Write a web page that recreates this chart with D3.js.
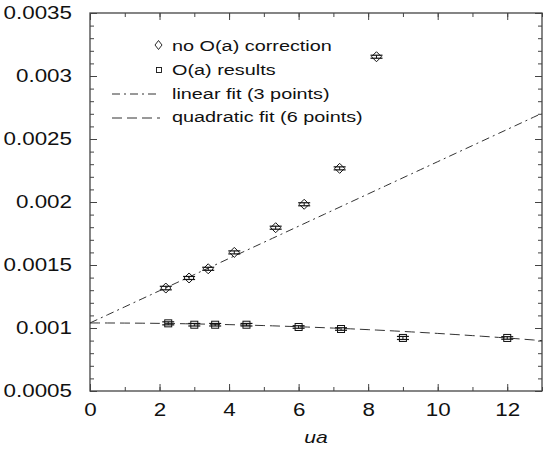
<!DOCTYPE html>
<html>
<head>
    <title>O(a) fit chart</title>
</head>
<style>
body { margin: 0; background: #fff; }
svg text { font-family: "Liberation Sans", Arial, sans-serif; fill: #111; }
</style>
<body>

<script src="https://cdn.jsdelivr.net/npm/d3@7/dist/d3.min.js"></script>
<script>

// data
var diamondUa  = [2.18, 2.85, 3.40, 4.15, 5.34, 6.16, 7.18, 8.24];
var diamondVal = [0.001317, 0.001397, 0.00147, 0.0016, 0.001796, 0.001982, 0.002267, 0.003153];
var diamondErr = [0.000014, 0.000012, 0.000012, 0.000012, 0.000012, 0.000012, 0.000012, 0.000012];

var squareUa  = [2.25, 3.0, 3.6, 4.5, 6.0, 7.22, 9.0, 12.0];
var squareVal = [0.001037, 0.001026, 0.001026, 0.001026, 0.001008, 0.000992, 0.000921, 0.000921];
var squareErr = [0.000012, 0.000010, 0.000010, 0.000010, 0.000010, 0.000010, 0.000012, 0.000010];

// fit coefficients
var linIntercept = 0.00104, linSlope = 0.000128;
var quadC0 = 0.00104, quadC1 = 0.0, quadC2 = -0.00000083;

var xTickValues = [0, 2, 4, 6, 8, 10, 12];
var yTickValues = [0.0005, 0.001, 0.0015, 0.002, 0.0025, 0.003, 0.0035];
var legendLabels = ["no O(a) correction", "O(a) results", "linear fit (3 points)", "quadratic fit (6 points)"];

var w = 551, h = 451;
var plotL = 90, plotR = 542, plotT = 13, plotB = 391;
var stretch = 1.28;   // the original lettering is wide

var xScale = d3.scaleLinear().domain([0, 13]).range([plotL, plotR]);
var yScale = d3.scaleLinear().domain([0.0005, 0.0035]).range([plotB, plotT]);

var svg = d3.select("body").append("svg")
    .attr("width", w)
    .attr("height", h);

svg.append("defs").append("clipPath").attr("id", "plot")
    .append("rect")
    .attr("x", plotL).attr("y", plotT)
    .attr("width", plotR - plotL).attr("height", plotB - plotT);

var xMinor = d3.range(0, 14);
var yMinor = d3.range(5, 36).map(function(i) { return i / 10000; });

function styleAxis(g) {
    g.select(".domain").remove();
    g.selectAll(".tick line").attr("stroke", "#444");
}

// minor ticks, all four sides
svg.append("g").attr("transform", "translate(0," + plotB + ")")
    .call(d3.axisBottom(xScale).tickValues(xMinor).tickSize(-4).tickFormat(""))
    .call(styleAxis);
svg.append("g").attr("transform", "translate(0," + plotT + ")")
    .call(d3.axisTop(xScale).tickValues(xMinor).tickSize(-4).tickFormat(""))
    .call(styleAxis);
svg.append("g").attr("transform", "translate(" + plotL + ",0)")
    .call(d3.axisLeft(yScale).tickValues(yMinor).tickSize(-4).tickFormat(""))
    .call(styleAxis);
svg.append("g").attr("transform", "translate(" + plotR + ",0)")
    .call(d3.axisRight(yScale).tickValues(yMinor).tickSize(-4).tickFormat(""))
    .call(styleAxis);

// major ticks
var xAxis = svg.append("g").attr("transform", "translate(0," + plotB + ")")
    .call(d3.axisBottom(xScale).tickValues(xTickValues).tickSize(-7).tickPadding(13))
    .call(styleAxis);
xAxis.selectAll("text")
    .attr("font-size", "17.5px")
    .attr("transform", "scale(" + stretch + ",1)");

var yAxis = svg.append("g").attr("transform", "translate(" + plotL + ",0)")
    .call(d3.axisLeft(yScale).tickValues(yTickValues).tickSize(-7).tickPadding(18)
        .tickFormat(function(d) { return String(d); }))
    .call(styleAxis);
yAxis.selectAll("text")
    .attr("font-size", "17.5px")
    .attr("x", -18 / stretch)
    .attr("transform", "scale(" + stretch + ",1)");

svg.append("g").attr("transform", "translate(0," + plotT + ")")
    .call(d3.axisTop(xScale).tickValues(xTickValues).tickSize(-7).tickFormat(""))
    .call(styleAxis);
svg.append("g").attr("transform", "translate(" + plotR + ",0)")
    .call(d3.axisRight(yScale).tickValues(yTickValues).tickSize(-7).tickFormat(""))
    .call(styleAxis);

// frame
svg.append("rect")
    .attr("x", plotL).attr("y", plotT)
    .attr("width", plotR - plotL).attr("height", plotB - plotT)
    .attr("fill", "none")
    .attr("stroke", "#444")
    .attr("stroke-width", 1.3);

svg.append("text")
    .attr("transform", "translate(" + ((plotL + plotR) / 2) + ",443) scale(" + stretch + ",1)")
    .attr("text-anchor", "middle")
    .attr("font-size", "16.5px")
    .attr("font-style", "italic")
    .text("ua");

// fit lines
var fitGrid = d3.range(0, 13.001, 0.25);
var line = d3.line()
    .x(function(d) { return xScale(d[0]); })
    .y(function(d) { return yScale(d[1]); });

var plot = svg.append("g").attr("clip-path", "url(#plot)");

plot.append("path")
    .datum(fitGrid.map(function(u) { return [u, linIntercept + linSlope * u]; }))
    .attr("d", line)
    .attr("fill", "none")
    .attr("stroke", "#333")
    .attr("stroke-width", 1)
    .attr("stroke-dasharray", "8,4,2,4");

plot.append("path")
    .datum(fitGrid.map(function(u) { return [u, quadC0 + quadC1 * u + quadC2 * u * u]; }))
    .attr("d", line)
    .attr("fill", "none")
    .attr("stroke", "#333")
    .attr("stroke-width", 1)
    .attr("stroke-dasharray", "10,5");

// points with error bars
function drawPoints(us, vals, errs, shape) {
    var pts = us.map(function(u, i) { return [u, vals[i], errs[i]]; });
    var g = plot.selectAll("g." + shape).data(pts).enter().append("g").attr("class", shape);
    g.append("line")
        .attr("x1", function(d) { return xScale(d[0]); })
        .attr("x2", function(d) { return xScale(d[0]); })
        .attr("y1", function(d) { return yScale(d[1] - d[2]); })
        .attr("y2", function(d) { return yScale(d[1] + d[2]); })
        .attr("stroke", "#111");
    [-1, 1].forEach(function(s) {
        g.append("line")
            .attr("x1", function(d) { return xScale(d[0]) - 6; })
            .attr("x2", function(d) { return xScale(d[0]) + 6; })
            .attr("y1", function(d) { return yScale(d[1] + s * d[2]); })
            .attr("y2", function(d) { return yScale(d[1] + s * d[2]); })
            .attr("stroke", "#111")
            .attr("stroke-width", 1.2);
    });
    if (shape == "diamond") {
        g.append("path")
            .attr("d", function(d) {
                var x = xScale(d[0]), y = yScale(d[1]);
                return "M" + x + "," + (y - 5) + "L" + (x + 5) + "," + y +
                       "L" + x + "," + (y + 5) + "L" + (x - 5) + "," + y + "Z";
            })
            .attr("fill", "none")
            .attr("stroke", "#111")
            .attr("stroke-width", 1);
    } else {
        g.append("rect")
            .attr("x", function(d) { return xScale(d[0]) - 3.5; })
            .attr("y", function(d) { return yScale(d[1]) - 3.5; })
            .attr("width", 7).attr("height", 7)
            .attr("fill", "none")
            .attr("stroke", "#111")
            .attr("stroke-width", 1);
    }
}
drawPoints(diamondUa, diamondVal, diamondErr, "diamond");
drawPoints(squareUa, squareVal, squareErr, "square");

// legend
var legend = svg.append("g");
var rowY = [51, 75, 99, 122];
legendLabels.forEach(function(t, i) {
    legend.append("text")
        .attr("transform", "translate(172," + rowY[i] + ") scale(" + stretch + ",1)")
        .attr("font-size", "15.5px")
        .text(t);
});
legend.append("path")
    .attr("d", "M158.5,40.5L162,45L158.5,49.5L155,45Z")
    .attr("fill", "none").attr("stroke", "#111").attr("stroke-width", 0.9);
legend.append("rect")
    .attr("x", 156.5).attr("y", 67.5).attr("width", 5).attr("height", 5)
    .attr("fill", "none").attr("stroke", "#111").attr("stroke-width", 0.9);
legend.append("line")
    .attr("x1", 112).attr("x2", 160).attr("y1", 94).attr("y2", 94)
    .attr("stroke", "#333").attr("stroke-dasharray", "8,4,2,4");
legend.append("line")
    .attr("x1", 112).attr("x2", 160).attr("y1", 118).attr("y2", 118)
    .attr("stroke", "#333").attr("stroke-dasharray", "10,5");

</script>
</body>
</html>
